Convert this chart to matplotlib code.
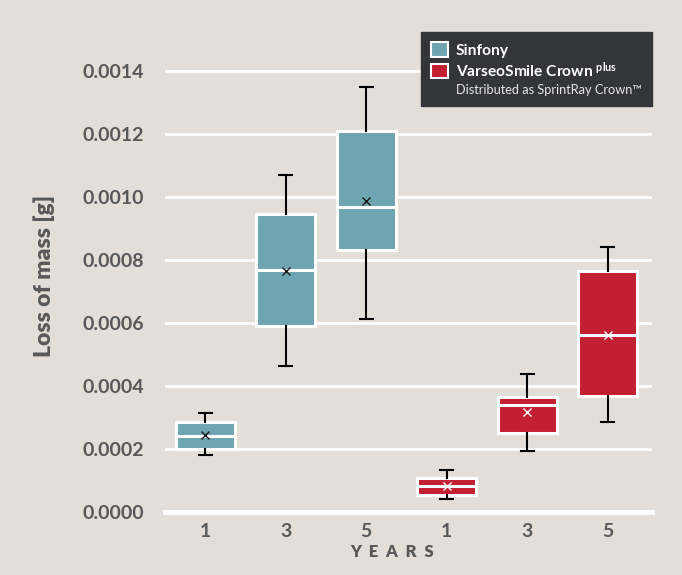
import matplotlib.pyplot as plt
from matplotlib.patches import Patch

# values (g)
groups = ["Sinfony", "VarseoSmile Crown"]
years = ["1", "3", "5", "1", "3", "5"]
whislo = [0.000181, 0.000464, 0.000613, 0.000042, 0.000193, 0.000287]
q1     = [0.000200, 0.000590, 0.000832, 0.000053, 0.000252, 0.000368]
med    = [0.000241, 0.000768, 0.000968, 0.000084, 0.000339, 0.000562]
q3     = [0.000286, 0.000946, 0.001210, 0.000108, 0.000366, 0.000765]
whishi = [0.000314, 0.001070, 0.001350, 0.000133, 0.000438, 0.000841]
means  = [0.000244, 0.000765, 0.000987, 0.000082, 0.000318, 0.000562]
group_of = [0, 0, 0, 1, 1, 1]

colors = ["#6FA5B1", "#C21F32"]
mean_colors = ["#1a1a1a", "white"]
bg = "#E3DFD8"
txt = "#58585A"

plt.rcParams['font.family'] = ['Lato', 'DejaVu Sans']
plt.rcParams['mathtext.default'] = 'regular'

fig = plt.figure(figsize=(6.82, 5.75), dpi=100, facecolor=bg)
ax = fig.add_axes([0.242, 0.1096, 0.714, 0.8209], facecolor=bg)

stats = []
for i in range(len(years)):
    stats.append(dict(whislo=whislo[i], q1=q1[i], med=med[i], q3=q3[i],
                      whishi=whishi[i], mean=means[i], fliers=[]))

pos = list(range(len(years)))
bp = ax.bxp(stats, positions=pos, widths=0.73, patch_artist=True,
            showmeans=False, showfliers=False,
            boxprops=dict(edgecolor="white", linewidth=2.2),
            medianprops=dict(color="white", linewidth=2.2),
            whiskerprops=dict(color="black", linewidth=1.5),
            capprops=dict(color="black", linewidth=1.5),
            capwidths=0.16, zorder=3)
for i, b in enumerate(bp["boxes"]):
    b.set_facecolor(colors[group_of[i]])
for i in pos:
    ax.plot(i, means[i], marker="x", ms=6, mew=1.0,
            color=mean_colors[group_of[i]], zorder=5)

ax.set_xlim(-0.5, 5.55)
ax.set_ylim(0, 0.0015)
ax.set_yticks([0.0, 0.0002, 0.0004, 0.0006, 0.0008, 0.0010, 0.0012, 0.0014])
ax.set_yticklabels(["0.0000", "0.0002", "0.0004", "0.0006", "0.0008",
                    "0.0010", "0.0012", "0.0014"])
ax.set_xticks(pos)
ax.set_xticklabels(years)
ax.grid(axis="y", color="white", linewidth=2, zorder=0)
ax.set_axisbelow(True)
ax.axhline(0, color="white", linewidth=3.5, zorder=1, clip_on=False)
for s in ax.spines.values():
    s.set_visible(False)
ax.tick_params(axis="y", length=0, labelsize=14, labelcolor=txt, pad=15)
ax.tick_params(axis="x", length=0, labelsize=14, labelcolor=txt, pad=8)
for lab in ax.get_yticklabels() + ax.get_xticklabels():
    lab.set_fontweight("bold")

ax.set_ylabel("Loss of mass [g]", fontsize=16.5, fontweight="heavy", color=txt,
              labelpad=20)
ax.set_xlabel("Y  E  A  R  S", fontsize=12, fontweight="heavy", color=txt)
ax.xaxis.set_label_coords(0.466, -0.068)

handles = [Patch(facecolor=colors[0], edgecolor="white", linewidth=1.5),
           Patch(facecolor=colors[1], edgecolor="white", linewidth=1.5),
           Patch(alpha=0)]
labels = ["Sinfony", "VarseoSmile Crown $^{plus}$",
          "Distributed as SprintRay Crown\u2122"]
leg = ax.legend(handles, labels, loc="upper right", bbox_to_anchor=(1.0, 1.017),
                borderaxespad=0, frameon=True, fancybox=False,
                facecolor="#343538", edgecolor="#343538", framealpha=1,
                handlelength=1.1, handleheight=1.1, handletextpad=0.5,
                labelspacing=0.12, borderpad=0.65, fontsize=11.2)
for i, t in enumerate(leg.get_texts()):
    t.set_color("white")
    if i < 2:
        t.set_fontweight("bold")
    else:
        t.set_fontsize(9.2)
        t.set_color("#e6e6e6")

fig.savefig("out.png", dpi=100, facecolor=bg)
